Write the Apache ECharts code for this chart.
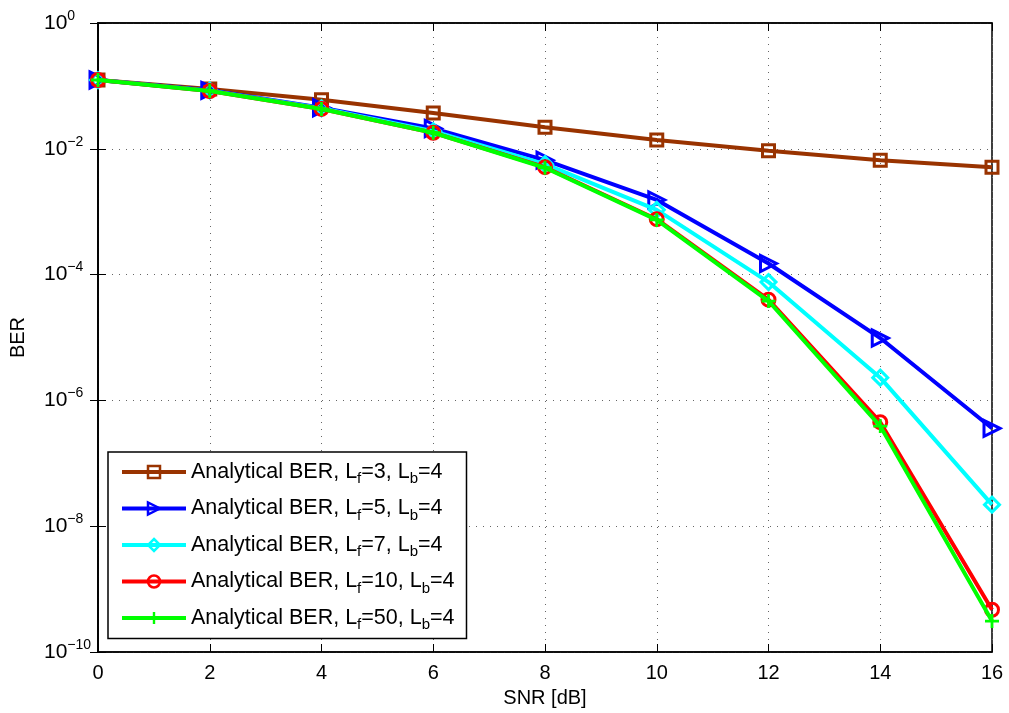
<!DOCTYPE html>
<html><head><meta charset="utf-8">
<script src="https://cdn.jsdelivr.net/npm/echarts@6/dist/echarts.min.js"></script>
<style>html,body{margin:0;padding:0;background:#fff}#c{width:1009px;height:713px}</style>
</head><body><div id="c"></div>
<script>
const snr = [0, 2, 4, 6, 8, 10, 12, 14, 16];
const lfLabels = ['3', '5', '7', '10', '50'];
const ber_lf3  = [0.124, 0.089, 0.060, 0.037, 0.022, 0.0138, 0.0093, 0.0066, 0.0051];
const ber_lf5  = [0.124, 0.085, 0.045, 0.021, 0.0066, 1.54e-3, 1.5e-4, 9.8e-6, 3.6e-7];
const ber_lf7  = [0.124, 0.084, 0.044, 0.019, 0.0057, 1.07e-3, 7.6e-5, 2.3e-6, 2.2e-8];
const ber_lf10 = [0.124, 0.083, 0.043, 0.018, 0.0051, 7.6e-4, 4.0e-5, 4.5e-7, 4.7e-10];
const ber_lf50 = [0.124, 0.083, 0.043, 0.018, 0.0050, 7.4e-4, 3.8e-5, 3.9e-7, 3.1e-10];

const FONT = 'Liberation Sans, Arial, sans-serif';
const colors = ['#993300', '#0000ff', '#00ffff', '#ff0000', '#00ff00'];
const symbols = ['rect', 'triangle', 'diamond', 'circle', 'path://M4,0H6V4H10V6H6V10H4V6H0V4H4Z'];
const symSizes = [12, 16, 15, 13, 14];
const symRot = [0, -90, 0, 0, 0];
const allData = [ber_lf3, ber_lf5, ber_lf7, ber_lf10, ber_lf50];

const series = allData.map((d, i) => ({
  name: 'Analytical BER, L{sub|f}=' + lfLabels[i] + ', L{sub|b}=4',
  type: 'line',
  data: snr.map((x, k) => [x, d[k]]),
  symbol: symbols[i],
  symbolSize: symSizes[i],
  symbolRotate: symRot[i],
  showAllSymbol: true,
  z: 2 + i,
  lineStyle: { color: colors[i], width: 4 },
  itemStyle: i === 4
    ? { color: colors[i], borderWidth: 0 }
    : { color: 'rgba(255,255,255,0)', borderColor: colors[i], borderWidth: 3 },
  emphasis: { disabled: true },
  animation: false
}));

const grayDots = { color: '#666', type: [1, 6], width: 1 };
const chart = echarts.init(document.getElementById('c'));
chart.setOption({
  animation: false,
  backgroundColor: '#fff',
  grid: { left: 97, right: 17, top: 23, bottom: 61, show: true, borderColor: '#000', borderWidth: 1.5, backgroundColor: 'transparent' },
  legend: {
    orient: 'vertical', left: 108, top: 452,
    data: series.map(s => s.name),
    itemWidth: 64, itemHeight: 15, itemGap: 11,
    padding: [9, 12, 6, 12],
    backgroundColor: '#fff', borderColor: '#000', borderWidth: 1.5,
    lineStyle: { width: 4 },
    itemStyle: { borderWidth: 2.5 },
    textStyle: {
      fontFamily: FONT, fontSize: 21.5, color: '#000',
      rich: { sub: { fontFamily: FONT, fontSize: 15, verticalAlign: 'bottom', padding: [14, 0, 0, 0] } }
    }
  },
  xAxis: [{
    type: 'value', min: 0, max: 16, interval: 2,
    name: 'SNR [dB]', nameLocation: 'middle', nameGap: 36,
    nameTextStyle: { fontFamily: FONT, fontSize: 20, color: '#000' },
    axisLine: { lineStyle: { color: '#000', width: 1.5 } },
    axisTick: { inside: true, length: 8, lineStyle: { color: '#000' } },
    axisLabel: { fontFamily: FONT, fontSize: 20, color: '#000', margin: 11 },
    splitLine: { show: true, lineStyle: grayDots }
  }, {
    type: 'value', min: 0, max: 16, interval: 2, position: 'top',
    axisLine: { show: true, lineStyle: { color: '#000', width: 1.5 } },
    axisTick: { inside: true, length: 8, lineStyle: { color: '#000' } },
    axisLabel: { show: false }, splitLine: { show: false }
  }],
  yAxis: [{
    type: 'log', logBase: 100, min: 1e-10, max: 1,
    name: 'BER', nameLocation: 'middle', nameGap: 70, nameRotate: 90,
    nameTextStyle: { fontFamily: FONT, fontSize: 20, color: '#000' },
    axisLine: { show: true, lineStyle: { color: '#000', width: 1.5 } },
    axisTick: { inside: true, length: 8, lineStyle: { color: '#000' } },
    axisLabel: {
      fontFamily: FONT, fontSize: 21, color: '#000', margin: 54, align: 'left',
      formatter: v => { const e = Math.round(Math.log10(v)); return '10{sup|' + (e < 0 ? '\u2212' + (-e) : e) + '}'; },
      rich: { sup: { fontFamily: FONT, fontSize: 14, verticalAlign: 'top', padding: [0, 0, 14, 0] } }
    },
    splitLine: { show: true, lineStyle: grayDots }
  }, {
    type: 'log', logBase: 100, min: 1e-10, max: 1, position: 'right',
    axisLine: { show: true, lineStyle: { color: '#000', width: 1.5 } },
    axisTick: { inside: true, length: 8, lineStyle: { color: '#000' } },
    axisLabel: { show: false }, splitLine: { show: false }
  }],
  series: series
});
</script></body></html>
